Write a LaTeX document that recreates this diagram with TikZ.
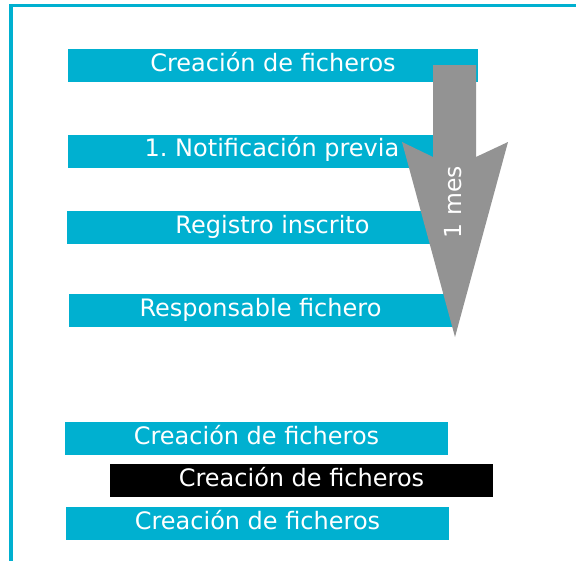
\documentclass[tikz,border=0pt]{standalone}
\usepackage{fontspec}
\setmainfont{DejaVu Sans}
\frenchspacing
\definecolor{boxcyan}{RGB}{0,176,208}
\definecolor{arrowgray}{RGB}{147,147,147}
\tikzset{
  bar/.style={rectangle, fill=boxcyan, text=white, inner xsep=0pt, inner ysep=0pt,
    text height=22pt, text depth=11pt, font=\fontsize{24}{28}\selectfont},
  blackbar/.style={bar, fill=black},
  arrowlabel/.style={text=white, rotate=90, font=\fontsize{23.5}{27}\selectfont, inner sep=0pt}
}
\begin{document}
\begin{tikzpicture}[x=1pt,y=-1pt]
\useasboundingbox (0,0) rectangle (576,560);
\fill[white] (0,0) rectangle (576,560);
% frame
\draw[boxcyan, line width=3.5pt] (590,5.5) -- (11,5.5) -- (11,575);
% bars
\node[bar, minimum width=410pt] (b1) at (273,65.5) {Creación de ficheros};
\node[bar, minimum width=408pt] (b2) at (272,151) {1. Notificación previa};
\node[bar, minimum width=411pt] (b3) at (272.5,227.5) {Registro inscrito};
\node[bar, minimum width=383pt] (b4) at (260.5,310.5) {Responsable fichero};
\node[bar, minimum width=383pt] (b5) at (256.5,438.5) {Creación de ficheros};
\node[blackbar, minimum width=383pt] (b6) at (301.5,480.5) {Creación de ficheros};
\node[bar, minimum width=383pt] (b7) at (257.5,523.5) {Creación de ficheros};
% arrow
\coordinate (sTL) at (433,65);
\coordinate (sTR) at (476,65);
\coordinate (sBR) at (476,157);
\coordinate (wR) at (508,142);
\coordinate (tip) at (455,337);
\coordinate (wL) at (402,142);
\coordinate (sBL) at (433,157);
\fill[arrowgray] (sTL) -- (sTR) -- (sBR) -- (wR) -- (tip) -- (wL) -- (sBL) -- cycle;
\node[arrowlabel] (mes) at (453,202) {1 mes};
\end{tikzpicture}
\end{document}
